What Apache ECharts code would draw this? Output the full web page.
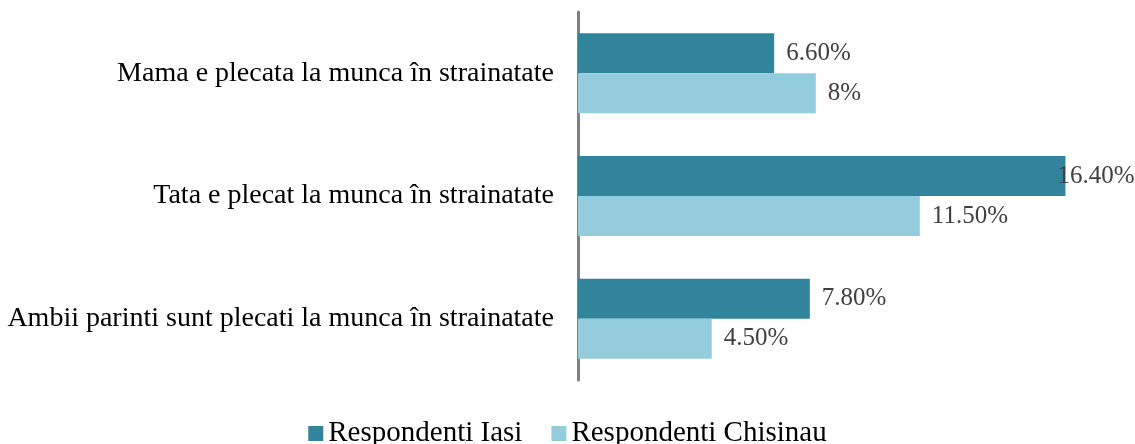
<!doctype html>
<html lang="ro">
<head>
	<meta charset="utf-8">
	<title>Parinti plecati la munca in strainatate</title>
	<script src="https://cdn.jsdelivr.net/npm/echarts@6/dist/echarts.min.js"></script>
	<style>
		html, body { margin: 0; padding: 0; background: #fff; }
		#chart { width: 1135px; height: 444px; }
	</style>
</head>
<body>
	<div id="chart"></div>
	<script>
		// categories, top to bottom
		var categories = [
			'Mama e plecata la munca în strainatate',
			'Tata e plecat la munca în strainatate',
			'Ambii parinti sunt plecati la munca în strainatate'
		];
		var seriesNames = ['Respondenti Iasi', 'Respondenti Chisinau'];
		var valuesIasi = [6.6, 16.4, 7.8];
		var valuesChisinau = [8, 11.5, 4.5];
		var labelsIasi = ['6.60%', '16.40%', '7.80%'];
		var labelsChisinau = ['8%', '11.50%', '4.50%'];

		var colors = ['#31849b', '#93cddd'];

		function buildData(values, labels) {
			var out = [];
			for (var i = 0; i < values.length; i++) {
				var item = { value: values[i], lbl: labels[i] };
				// the longest bar label gets pushed back to stay inside the picture
				if (values[i] > 16) {
					item.label = { offset: [-20, 0] };
				}
				out.push(item);
			}
			return out;
		}

		var labelStyle = {
			show: true,
			position: 'right',
			distance: 12,
			fontFamily: 'Liberation Serif',
			fontSize: 25,
			color: '#404040',
			formatter: function (p) { return p.data.lbl; }
		};

		var option = {
			animation: false,
			color: colors,
			grid: {
				left: 578,
				right: 22,
				top: 12,
				bottom: 64,
				containLabel: false
			},
			xAxis: {
				type: 'value',
				min: 0,
				max: 18,
				show: false
			},
			yAxis: {
				type: 'category',
				inverse: true,
				data: categories,
				axisLine: { show: true, lineStyle: { color: '#808080', width: 3 } },
				axisTick: { show: false },
				axisLabel: {
					margin: 24,
					fontFamily: 'Liberation Serif',
					fontSize: 28,
					color: '#000'
				}
			},
			legend: {
				bottom: -9,
				left: 'center',
				itemWidth: 15,
				itemHeight: 15,
				itemGap: 29,
				icon: 'rect',
				textStyle: {
					fontFamily: 'Liberation Serif',
					fontSize: 29,
					color: '#000'
				},
				data: seriesNames
			},
			series: [
				{
					name: seriesNames[0],
					type: 'bar',
					barWidth: 40,
					barGap: '0%',
					data: buildData(valuesIasi, labelsIasi),
					label: labelStyle
				},
				{
					name: seriesNames[1],
					type: 'bar',
					barWidth: 40,
					barGap: '0%',
					data: buildData(valuesChisinau, labelsChisinau),
					label: labelStyle
				}
			]
		};

		var chart = echarts.init(document.getElementById('chart'));
		chart.setOption(option);
	</script>
</body>
</html>
